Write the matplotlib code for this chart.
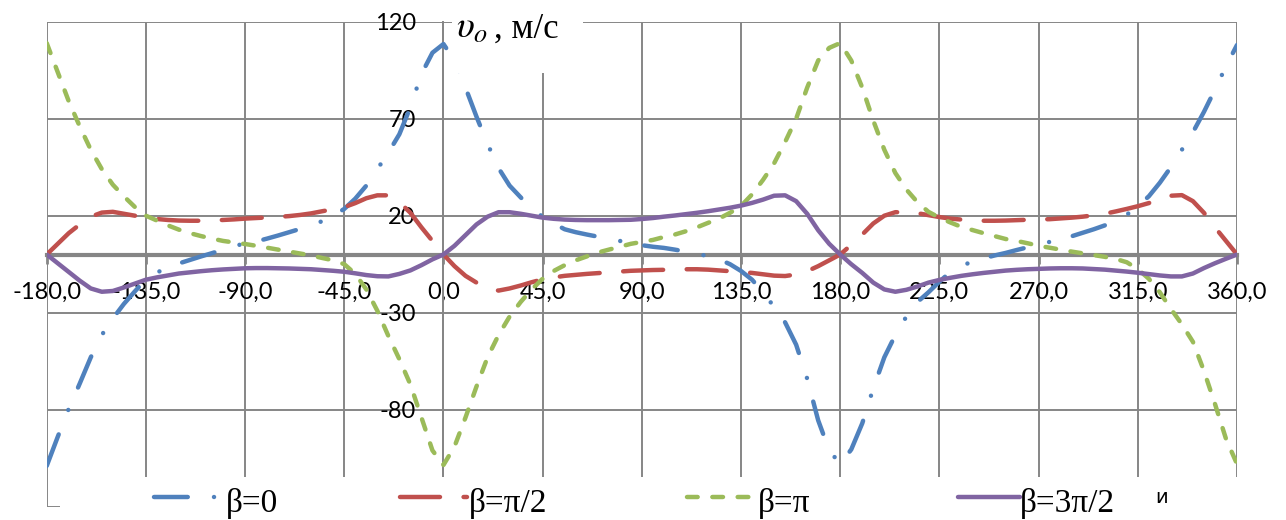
import matplotlib
matplotlib.use("Agg")
import matplotlib.pyplot as plt
import numpy as np
from matplotlib.lines import Line2D
from matplotlib.patches import Rectangle

plt.rcParams['mathtext.fontset'] = 'stix'

# angle, deg (step 5 from -180 to 360)
angle = np.arange(-180, 361, 5)

v_b0 = [-109, -94, -79.5, -66.5, -53, -41.5, -33, -25.5, -19, -12.8, -9.3, -6.7, -4.6, -2.8, -1, 0.7, 2.5, 4.5,
        5.5, 6.7, 8.2, 9.8, 11.5, 13.2, 15, 17.2, 20, 23.5, 28.8, 35.5, 44, 52.5, 62, 76, 93, 104,
        108.5, 100, 86, 71, 57, 44.5, 35.5, 29.5, 23.5, 19.5, 16, 13, 11.5, 10.3, 9.2, 8, 7, 5.8,
        4.8, 4, 3.4, 2.5, 1.5, 0.3, -0.8, -2.5, -5, -8.5, -13, -19.5, -27, -35, -46.5, -64, -85.5, -101,
        -108, -100.5, -87, -69, -53, -41.5, -32, -24.5, -19.5, -14, -9, -6, -3.5, -2, -0.5, 0.8, 2.3, 3.7,
        5, 6.5, 8, 9.4, 11.2, 13, 15, 17.5, 20.5, 25, 30, 37, 45, 54, 63, 73.5, 85, 97, 108]
v_bpi2 = [0, 5.5, 11, 15.5, 19.5, 21.6, 22, 21, 20, 19, 18.3, 17.8, 17.5, 17.4, 17.4, 17.6, 17.8, 18.1,
          18.5, 18.8, 19.1, 19.4, 19.8, 20.4, 21.2, 22.3, 23.3, 24.4, 26.5, 29, 30.5, 30.5, 27, 21.5, 14, 7,
          0, -6, -11, -14.5, -17.5, -18.6, -17.5, -16, -14.3, -12.8, -11.8, -11, -10.5, -10, -9.6, -9.2, -8.8, -8.4,
          -8.2, -8, -7.9, -7.7, -7.6, -7.6, -7.8, -8.2, -8.6, -9, -9.5, -10.2, -10.9, -11.1, -10.3, -8.6, -6, -3,
          0, 5, 10.3, 16, 20, 21.8, 21.8, 21.3, 20.3, 19.3, 18.5, 18, 17.6, 17.4, 17.4, 17.5, 17.7, 17.9,
          18.1, 18.2, 18.6, 19, 19.5, 20.2, 21, 22.2, 23.5, 24.9, 26.5, 28.7, 30.3, 30.6, 27.5, 21.5, 14, 7, 0]
v_bpi = [109, 94, 79, 66, 54, 44, 36, 30, 24.5, 20, 17.5, 15, 12.8, 11, 9.5, 8.2, 7, 6.2,
         5.4, 4.5, 3.5, 2.5, 1.5, 0.5, -0.5, -1.8, -3, -5, -10, -18, -29, -42, -54, -67, -84, -101,
         -108.5, -99, -84, -68, -53, -41.5, -32, -24.5, -18, -12.5, -8.5, -5.5, -3, -1, 1, 2.5, 4, 5.5,
         6.5, 7.5, 9, 10.3, 12, 14, 16.3, 18.5, 21.5, 25, 31, 38.5, 47, 58, 70, 86, 100, 106.5,
         109, 100, 86, 69, 54, 42, 33.5, 27, 22, 19, 16.5, 14.2, 12.6, 11, 9.5, 8, 7, 5.8,
         4.5, 3.5, 2.5, 1.5, 0.6, -0.3, -1.2, -2.3, -4, -7.5, -12.5, -19.5, -28, -36, -45, -60, -77, -95, -108]
v_b3pi2 = [0, -4.5, -9, -13.5, -17.5, -19.2, -18.8, -17, -15, -13, -11.8, -10.8, -9.8, -9.2, -8.6, -8.1, -7.7, -7.4,
           -7.1, -7, -7, -7.1, -7.2, -7.4, -7.6, -8, -8.4, -8.9, -9.7, -10.6, -11.2, -11.3, -10, -8.2, -5.5, -2.5,
           0, 4.5, 10, 15.5, 19.5, 21.8, 21.8, 21, 20, 19, 18.4, 18, 17.8, 17.7, 17.7, 17.7, 17.8, 17.9,
           18.3, 18.8, 19.5, 20.1, 20.8, 21.5, 22.3, 23.2, 24.1, 25.2, 26.6, 28.3, 30.3, 30.5, 27.5, 21, 12.5, 5.5,
           0, -5, -9.5, -14.5, -18, -19.2, -18.2, -16.5, -14.5, -13.1, -12, -11, -10.2, -9.5, -8.9, -8.3, -7.9, -7.6,
           -7.4, -7.2, -7.1, -7.1, -7.2, -7.5, -7.8, -8.3, -8.8, -9.4, -10.1, -10.8, -11.3, -11.3, -9.8, -7, -4.5, -2.2, 0]

series = [v_b0, v_bpi2, v_bpi, v_b3pi2]
names = ["β=0", "β=π/2", "β=π", "β=3π/2"]
colors = ["#4F81BD", "#C0504D", "#9BBB59", "#8064A2"]
dasharr = [(7.6, 5.9, 0.01, 5.5), (9, 5.3), (2.4, 3.3), None]

xticks = list(range(-180, 361, 45))
yticks = [-130, -80, -30, 20, 70, 120]
gridc = "#868686"
lw = 3.2

W, H = 1286, 520
def fx(px):
    return px / W
def fy(py):
    return 1 - py / H

fig = plt.figure(figsize=(W / 100, H / 100), dpi=100)
ax = fig.add_axes([fx(46.7), fy(506.7), (1237 - 46.7) / W, (506.7 - 21.7) / H])

for i, v in enumerate(series):
    if dasharr[i] is None:
        ax.plot(angle, v, color=colors[i], lw=lw, solid_capstyle='round', zorder=3)
    else:
        ax.plot(angle, v, color=colors[i], lw=lw, dashes=dasharr[i], dash_capstyle='round', zorder=3)

ax.set_xlim(-180, 360)
ax.set_ylim(-130, 120)
ax.set_xticks(xticks)
ax.set_xticklabels([f"{t:.1f}".replace('.', ',') for t in xticks])
ax.set_yticks(yticks)
ax.set_yticklabels([str(t) for t in yticks])
ax.grid(True, color=gridc, lw=1.4)
ax.set_axisbelow(True)
for gl in ax.get_xgridlines() + ax.get_ygridlines():
    gl.set_clip_on(False)

for s in ['top', 'right']:
    ax.spines[s].set_visible(False)
ax.spines['left'].set_position(('data', 0))
ax.spines['left'].set_color(gridc)
ax.spines['left'].set_linewidth(1.4)
ax.spines['bottom'].set_position(('data', 0))
ax.spines['bottom'].set_color(gridc)
ax.spines['bottom'].set_linewidth(3)

ax.tick_params(axis='x', length=6.5, width=2, color=gridc, pad=13, labelsize=17)
ax.tick_params(axis='y', length=0, pad=20, labelsize=17)
for lab in ax.get_xticklabels() + ax.get_yticklabels():
    lab.set_fontfamily('Lato')

# axis label with white background
fig.add_artist(Rectangle((fx(452), fy(73)), (583 - 452) / W, 73 / H, transform=fig.transFigure,
                         facecolor='white', edgecolor='none', zorder=5))
fig.text(fx(456), fy(38), r"$\upsilon_o$", fontsize=27, va='baseline', ha='left', zorder=6)
fig.text(fx(494), fy(38), ", м/с", fontsize=25, family='Liberation Serif',
         va='baseline', ha='left', zorder=6)

# legend
fig.add_artist(Rectangle((fx(60), fy(517)), (1250 - 60) / W, (517 - 477) / H, transform=fig.transFigure,
                         facecolor='white', edgecolor='none', zorder=5))
handle_x = [(154, 222), (400, 467), (687, 752), (958, 1020)]
text_x = [226, 469, 758, 1020]
ly = 497
for i in range(4):
    x1, x2 = handle_x[i]
    if dasharr[i] is None:
        ln = Line2D([fx(x1), fx(x2)], [fy(ly), fy(ly)], transform=fig.transFigure, color=colors[i],
                    lw=lw, solid_capstyle='round', zorder=6)
    else:
        ln = Line2D([fx(x1), fx(x2)], [fy(ly), fy(ly)], transform=fig.transFigure, color=colors[i],
                    lw=lw, dashes=dasharr[i], dash_capstyle='round', zorder=6)
    fig.add_artist(ln)
    fig.text(fx(text_x[i]), fy(512), names[i], fontsize=24, family='Liberation Serif',
             va='baseline', ha='left', zorder=6)
fig.text(fx(1155), fy(503), "и", fontsize=14, family='DejaVu Sans', va='baseline', ha='left', zorder=6)

fig.savefig("out.png", dpi=100)
